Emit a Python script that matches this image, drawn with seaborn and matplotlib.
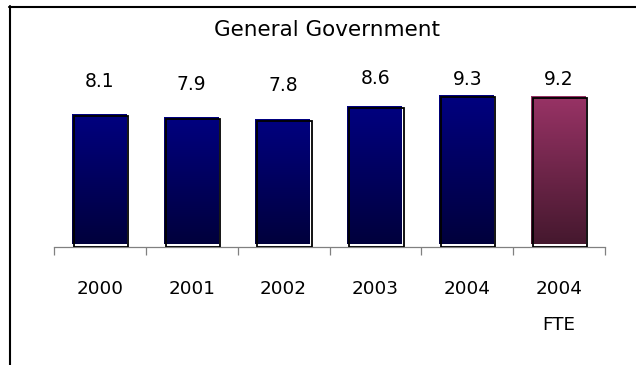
import numpy as np
import pandas as pd
import matplotlib
matplotlib.use("Agg")
import matplotlib.pyplot as plt
import seaborn as sns
from matplotlib.colors import LinearSegmentedColormap
from matplotlib.patches import Rectangle
from matplotlib.lines import Line2D
from matplotlib.ticker import FixedLocator

# Data
years = ["2000", "2001", "2002", "2003", "2004", "2004\nFTE"]
values = [8.1, 7.9, 7.8, 8.6, 9.3, 9.2]
label_heights = [10.22, 10.09, 9.99, 10.42, 10.40, 10.40]
title = "General Government"

sns.set_theme(style="white")
plt.rcParams["font.family"] = ["DejaVu Sans"]

W, H = 636, 365
fig = plt.figure(figsize=(W / 100, H / 100), dpi=100)
ax = fig.add_axes([54 / W, (H - 246.5) / H, 551 / W, 193.2 / H])

df = pd.DataFrame({"year": years, "value": values})
top_colors = ["#000080"] * 5 + ["#993366"]
bottom_colors = ["#00003C"] * 5 + ["#45182E"]

sns.barplot(data=df, x="year", y="value", hue="year", palette=top_colors,
            legend=False, width=0.59, saturation=1, ax=ax, zorder=2)
ax.set_xlim(-0.5, len(years) - 0.5)
ax.set_ylim(0, 12)

# pixel -> data conversion for the small bevel offsets
px_x = (len(years)) / 551.0
px_y = 12 / 193.2

grad = np.linspace(1, 0, 256).reshape(-1, 1)
for patch, c_top, c_bot in zip(ax.patches, top_colors, bottom_colors):
    x0 = patch.get_x()
    w = patch.get_width()
    h = patch.get_height()
    patch.set_visible(False)
    # gradient fill, nudged up and left
    fx0 = x0 - 1.0 * px_x
    fy0 = 2.0 * px_y
    cmap = LinearSegmentedColormap.from_list("g", [c_bot, c_top])
    clip = Rectangle((fx0, fy0), w, h, transform=ax.transData,
                     facecolor="none", edgecolor="none")
    ax.add_patch(clip)
    im = ax.imshow(grad, extent=[fx0, fx0 + w, fy0, fy0 + h], aspect="auto",
                   cmap=cmap, vmin=0, vmax=1, zorder=2, interpolation="bilinear")
    im.set_clip_path(clip)
    # black outline at the bar's own position
    ax.add_patch(Rectangle((x0 + 1.0 * px_x, 0), w, h, fill=False,
                           edgecolor="black", linewidth=1.3, zorder=3))

ax.set_xlim(-0.5, len(years) - 0.5)
ax.set_ylim(0, 12)

# value labels
for i, (v, ly) in enumerate(zip(values, label_heights)):
    ax.text(i, ly, f"{v:.1f}", ha="center", va="center", fontsize=13.5,
            color="black")

# axes styling
for side in ["left", "right", "top"]:
    ax.spines[side].set_visible(False)
ax.spines["bottom"].set_color("#808080")
ax.spines["bottom"].set_linewidth(0.9)
ax.set_yticks([])
ax.set_xlabel("")
ax.set_ylabel("")
ax.xaxis.set_minor_locator(FixedLocator(np.arange(-0.5, len(years), 1.0)))
ax.tick_params(axis="x", which="major", length=0, pad=24, labelsize=13.2,
               labelcolor="black")
ax.tick_params(axis="x", which="minor", length=5.8, width=0.9,
               color="#808080", direction="out", bottom=True)
for lab in ax.get_xticklabels():
    lab.set_linespacing(2.3)
ax.set_facecolor("white")

# title
fig.text(326.7 / W, 1 - 29.5 / H, title, ha="center", va="center",
         fontsize=15.5, color="black")

# frame lines along the top and left edges
fig.add_artist(Line2D([9 / W, 1.0], [1 - 6.7 / H, 1 - 6.7 / H],
                      transform=fig.transFigure, color="black", linewidth=1.5))
fig.add_artist(Line2D([10 / W, 10 / W], [0, 1 - 6.0 / H],
                      transform=fig.transFigure, color="black", linewidth=1.5))

fig.savefig("out.png", dpi=100)
